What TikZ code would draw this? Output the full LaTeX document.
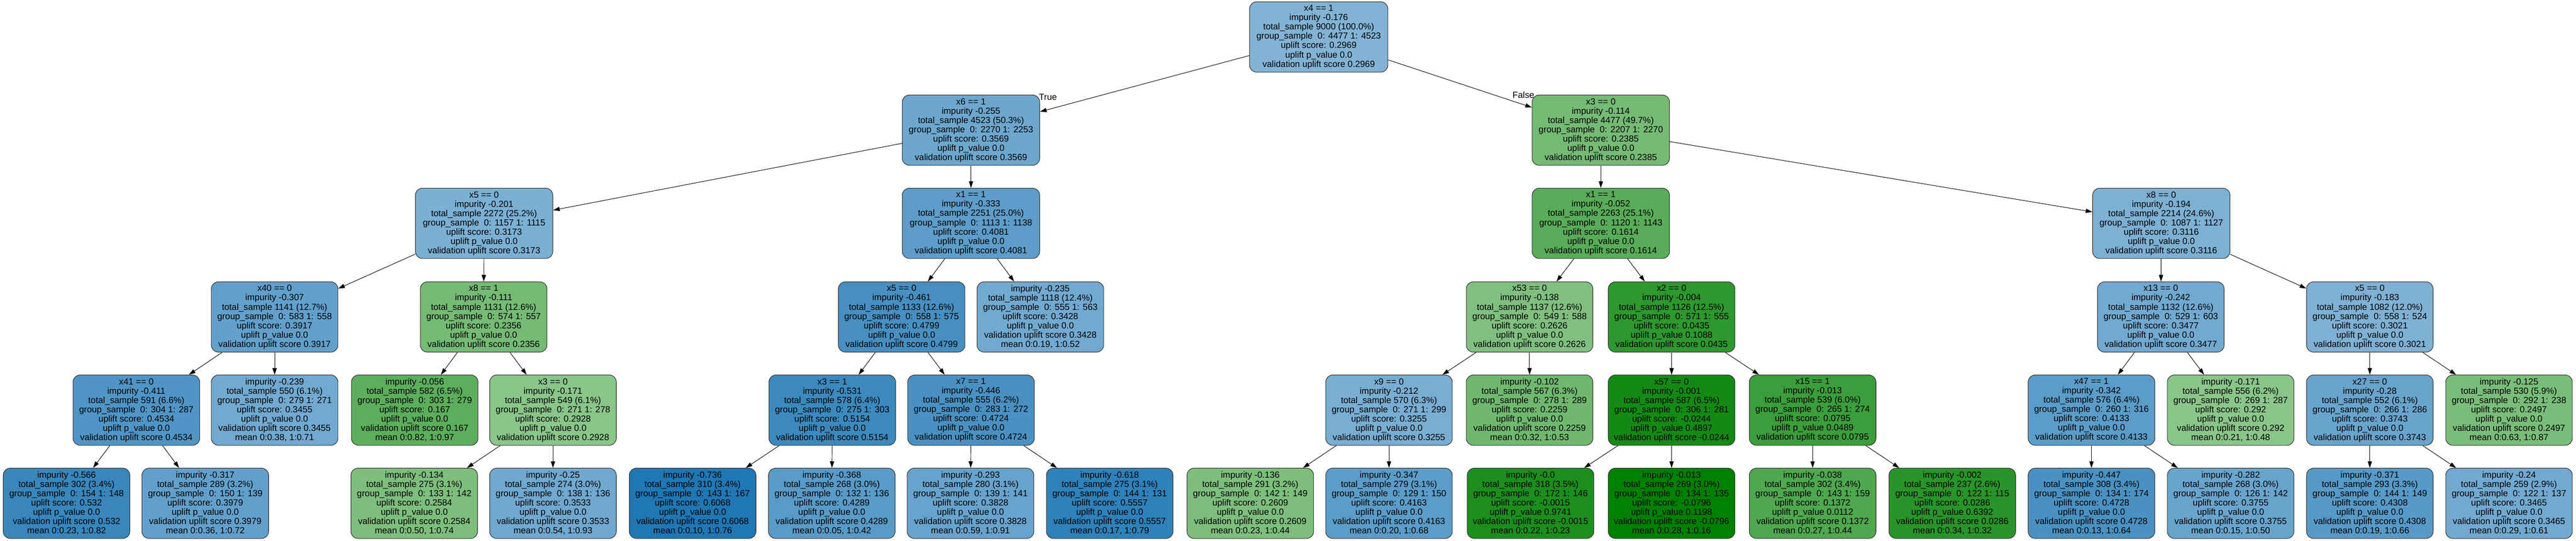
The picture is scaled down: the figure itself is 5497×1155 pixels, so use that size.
\documentclass[tikz,border=0pt]{standalone}
\usepackage{fontspec}
\setmainfont{Liberation Sans}
\usepackage{tikz}
\usetikzlibrary{arrows.meta}
\usepackage{xcolor}
\definecolor{upblue}{RGB}{31,119,180}
\definecolor{upgreen}{RGB}{0,128,0}

\begin{document}
\begin{tikzpicture}[x=0.01cm, y=-0.01cm,
    every node/.style={font=\fontsize{5.38}{5.63}\selectfont},
    box/.style={draw=black!80, rectangle, rounded corners=0.15cm, align=center, line width=0.35pt, minimum width=2.7cm, minimum height=1.5cm, inner sep=0pt},
    widebox/.style={box, minimum width=2.93cm},
    edge/.style={-{Triangle[length=0.14cm,width=0.09cm]}, line width=0.3pt},
    lbl/.style={inner sep=0pt}]
            \useasboundingbox (0,0) rectangle (5497,1155);

            % level 0 and 1
            \node[widebox, fill=upblue!56, minimum width=2.95cm] (root) at (2814,79) {x4 == 1\\impurity -0.176\\total\_sample 9000 (100.0\%)\\group\_sample\ \ 0: 4477 1: 4523\\uplift score: 0.2969\\uplift p\_value 0.0\\validation uplift score 0.2969};
            \node[widebox, fill=upblue!65] (l) at (2072,278) {x6 == 1\\impurity -0.255\\total\_sample 4523 (50.3\%)\\group\_sample\ \ 0: 2270 1: 2253\\uplift score: 0.3569\\uplift p\_value 0.0\\validation uplift score 0.3569};
            \node[widebox, fill=upgreen!54] (r) at (3416,278) {x3 == 0\\impurity -0.114\\total\_sample 4477 (49.7\%)\\group\_sample\ \ 0: 2207 1: 2270\\uplift score: 0.2385\\uplift p\_value 0.0\\validation uplift score 0.2385};

            % level 2
            \node[widebox, fill=upblue!59] (ll) at (1033,477) {x5 == 0\\impurity -0.201\\total\_sample 2272 (25.2\%)\\group\_sample\ \ 0: 1157 1: 1115\\uplift score: 0.3173\\uplift p\_value 0.0\\validation uplift score 0.3173};
            \node[widebox, fill=upblue!72] (lr) at (2072,477) {x1 == 1\\impurity -0.333\\total\_sample 2251 (25.0\%)\\group\_sample\ \ 0: 1113 1: 1138\\uplift score: 0.4081\\uplift p\_value 0.0\\validation uplift score 0.4081};
            \node[widebox, fill=upgreen!65] (rl) at (3416,477) {x1 == 1\\impurity -0.052\\total\_sample 2263 (25.1\%)\\group\_sample\ \ 0: 1120 1: 1143\\uplift score: 0.1614\\uplift p\_value 0.0\\validation uplift score 0.1614};
            \node[widebox, fill=upblue!58] (rr) at (4612,477) {x8 == 0\\impurity -0.194\\total\_sample 2214 (24.6\%)\\group\_sample\ \ 0: 1087 1: 1127\\uplift score: 0.3116\\uplift p\_value 0.0\\validation uplift score 0.3116};

            % level 3
            \node[box, fill=upblue!70] (lll) at (586,677) {x40 == 0\\impurity -0.307\\total\_sample 1141 (12.7\%)\\group\_sample\ \ 0: 583 1: 558\\uplift score: 0.3917\\uplift p\_value 0.0\\validation uplift score 0.3917};
            \node[box, fill=upgreen!54] (llr) at (1032,677) {x8 == 1\\impurity -0.111\\total\_sample 1131 (12.6\%)\\group\_sample\ \ 0: 574 1: 557\\uplift score: 0.2356\\uplift p\_value 0.0\\validation uplift score 0.2356};
            \node[box, fill=upblue!82] (lrl) at (1924,677) {x5 == 0\\impurity -0.461\\total\_sample 1133 (12.6\%)\\group\_sample\ \ 0: 558 1: 575\\uplift score: 0.4799\\uplift p\_value 0.0\\validation uplift score 0.4799};
            \node[box, fill=upblue!63] (lrr) at (2220,677) {impurity -0.235\\total\_sample 1118 (12.4\%)\\group\_sample\ \ 0: 555 1: 563\\uplift score: 0.3428\\uplift p\_value 0.0\\validation uplift score 0.3428\\mean 0:0.19, 1:0.52};
            \node[box, fill=upgreen!50] (rll) at (3264,677) {x53 == 0\\impurity -0.138\\total\_sample 1137 (12.6\%)\\group\_sample\ \ 0: 549 1: 588\\uplift score: 0.2626\\uplift p\_value 0.0\\validation uplift score 0.2626};
            \node[box, fill=upgreen!82] (rlr) at (3567,677) {x2 == 0\\impurity -0.004\\total\_sample 1126 (12.5\%)\\group\_sample\ \ 0: 571 1: 555\\uplift score: 0.0435\\uplift p\_value 0.1088\\validation uplift score 0.0435};
            \node[box, fill=upblue!63] (rrl) at (4611,677) {x13 == 0\\impurity -0.242\\total\_sample 1132 (12.6\%)\\group\_sample\ \ 0: 529 1: 603\\uplift score: 0.3477\\uplift p\_value 0.0\\validation uplift score 0.3477};
            \node[box, fill=upblue!57] (rrr) at (5057,677) {x5 == 0\\impurity -0.183\\total\_sample 1082 (12.0\%)\\group\_sample\ \ 0: 558 1: 524\\uplift score: 0.3021\\uplift p\_value 0.0\\validation uplift score 0.3021};

            % level 4
            \node[box, fill=upblue!78] (llll) at (291,876) {x41 == 0\\impurity -0.411\\total\_sample 591 (6.6\%)\\group\_sample\ \ 0: 304 1: 287\\uplift score: 0.4534\\uplift p\_value 0.0\\validation uplift score 0.4534};
            \node[box, fill=upblue!63] (lllr) at (586,876) {impurity -0.239\\total\_sample 550 (6.1\%)\\group\_sample\ \ 0: 279 1: 271\\uplift score: 0.3455\\uplift p\_value 0.0\\validation uplift score 0.3455\\mean 0:0.38, 1:0.71};
            \node[box, fill=upgreen!64] (llrl) at (885,876) {impurity -0.056\\total\_sample 582 (6.5\%)\\group\_sample\ \ 0: 303 1: 279\\uplift score: 0.167\\uplift p\_value 0.0\\validation uplift score 0.167\\mean 0:0.82, 1:0.97};
            \node[box, fill=upgreen!46] (llrr) at (1180,876) {x3 == 0\\impurity -0.171\\total\_sample 549 (6.1\%)\\group\_sample\ \ 0: 271 1: 278\\uplift score: 0.2928\\uplift p\_value 0.0\\validation uplift score 0.2928};
            \node[box, fill=upblue!87] (lrll) at (1776,876) {x3 == 1\\impurity -0.531\\total\_sample 578 (6.4\%)\\group\_sample\ \ 0: 275 1: 303\\uplift score: 0.5154\\uplift p\_value 0.0\\validation uplift score 0.5154};
            \node[box, fill=upblue!81] (lrlr) at (2072,876) {x7 == 1\\impurity -0.446\\total\_sample 555 (6.2\%)\\group\_sample\ \ 0: 283 1: 272\\uplift score: 0.4724\\uplift p\_value 0.0\\validation uplift score 0.4724};
            \node[box, fill=upblue!60] (rlll) at (2964,876) {x9 == 0\\impurity -0.212\\total\_sample 570 (6.3\%)\\group\_sample\ \ 0: 271 1: 299\\uplift score: 0.3255\\uplift p\_value 0.0\\validation uplift score 0.3255};
            \node[box, fill=upgreen!56] (rllr) at (3264,876) {impurity -0.102\\total\_sample 567 (6.3\%)\\group\_sample\ \ 0: 278 1: 289\\uplift score: 0.2259\\uplift p\_value 0.0\\validation uplift score 0.2259\\mean 0:0.32, 1:0.53};
            \node[box, fill=upgreen!92] (rlrl) at (3567,876) {x57 == 0\\impurity -0.001\\total\_sample 587 (6.5\%)\\group\_sample\ \ 0: 306 1: 281\\uplift score: -0.0244\\uplift p\_value 0.4897\\validation uplift score -0.0244};
            \node[box, fill=upgreen!77] (rlrr) at (3868,876) {x15 == 1\\impurity -0.013\\total\_sample 539 (6.0\%)\\group\_sample\ \ 0: 265 1: 274\\uplift score: 0.0795\\uplift p\_value 0.0489\\validation uplift score 0.0795};
            \node[box, fill=upblue!73] (rrll) at (4463,876) {x47 == 1\\impurity -0.342\\total\_sample 576 (6.4\%)\\group\_sample\ \ 0: 260 1: 316\\uplift score: 0.4133\\uplift p\_value 0.0\\validation uplift score 0.4133};
            \node[box, fill=upgreen!46] (rrlr) at (4760,876) {impurity -0.171\\total\_sample 556 (6.2\%)\\group\_sample\ \ 0: 269 1: 287\\uplift score: 0.292\\uplift p\_value 0.0\\validation uplift score 0.292\\mean 0:0.21, 1:0.48};
            \node[box, fill=upblue!67] (rrrl) at (5057,876) {x27 == 0\\impurity -0.28\\total\_sample 552 (6.1\%)\\group\_sample\ \ 0: 266 1: 286\\uplift score: 0.3743\\uplift p\_value 0.0\\validation uplift score 0.3743};
            \node[box, fill=upgreen!52] (rrrr) at (5354,876) {impurity -0.125\\total\_sample 530 (5.9\%)\\group\_sample\ \ 0: 292 1: 238\\uplift score: 0.2497\\uplift p\_value 0.0\\validation uplift score 0.2497\\mean 0:0.63, 1:0.87};

            % level 5
            \node[box, fill=upblue!89] (lllll) at (142,1075) {impurity -0.566\\total\_sample 302 (3.4\%)\\group\_sample\ \ 0: 154 1: 148\\uplift score: 0.532\\uplift p\_value 0.0\\validation uplift score 0.532\\mean 0:0.23, 1:0.82};
            \node[box, fill=upblue!70] (llllr) at (438,1075) {impurity -0.317\\total\_sample 289 (3.2\%)\\group\_sample\ \ 0: 150 1: 139\\uplift score: 0.3979\\uplift p\_value 0.0\\validation uplift score 0.3979\\mean 0:0.36, 1:0.72};
            \node[box, fill=upgreen!51] (llrrl) at (884,1075) {impurity -0.134\\total\_sample 275 (3.1\%)\\group\_sample\ \ 0: 133 1: 142\\uplift score: 0.2584\\uplift p\_value 0.0\\validation uplift score 0.2584\\mean 0:0.50, 1:0.74};
            \node[box, fill=upblue!64] (llrrr) at (1180,1075) {impurity -0.25\\total\_sample 274 (3.0\%)\\group\_sample\ \ 0: 138 1: 136\\uplift score: 0.3533\\uplift p\_value 0.0\\validation uplift score 0.3533\\mean 0:0.54, 1:0.93};
            \node[box, fill=upblue!100] (lrlll) at (1478,1075) {impurity -0.736\\total\_sample 310 (3.4\%)\\group\_sample\ \ 0: 143 1: 167\\uplift score: 0.6068\\uplift p\_value 0.0\\validation uplift score 0.6068\\mean 0:0.10, 1:0.76};
            \node[box, fill=upblue!74] (lrllr) at (1775,1075) {impurity -0.368\\total\_sample 268 (3.0\%)\\group\_sample\ \ 0: 132 1: 136\\uplift score: 0.4289\\uplift p\_value 0.0\\validation uplift score 0.4289\\mean 0:0.05, 1:0.42};
            \node[box, fill=upblue!68] (lrlrl) at (2071,1075) {impurity -0.293\\total\_sample 280 (3.1\%)\\group\_sample\ \ 0: 139 1: 141\\uplift score: 0.3828\\uplift p\_value 0.0\\validation uplift score 0.3828\\mean 0:0.59, 1:0.91};
            \node[box, fill=upblue!93] (lrlrr) at (2368,1075) {impurity -0.618\\total\_sample 275 (3.1\%)\\group\_sample\ \ 0: 144 1: 131\\uplift score: 0.5557\\uplift p\_value 0.0\\validation uplift score 0.5557\\mean 0:0.17, 1:0.79};
            \node[box, fill=upgreen!51] (rllll) at (2668,1075) {impurity -0.136\\total\_sample 291 (3.2\%)\\group\_sample\ \ 0: 142 1: 149\\uplift score: 0.2609\\uplift p\_value 0.0\\validation uplift score 0.2609\\mean 0:0.23, 1:0.44};
            \node[box, fill=upblue!73] (rlllr) at (2964,1075) {impurity -0.347\\total\_sample 279 (3.1\%)\\group\_sample\ \ 0: 129 1: 150\\uplift score: 0.4163\\uplift p\_value 0.0\\validation uplift score 0.4163\\mean 0:0.20, 1:0.68};
            \node[box, fill=upgreen!89] (rlrll) at (3266,1075) {impurity -0.0\\total\_sample 318 (3.5\%)\\group\_sample\ \ 0: 172 1: 146\\uplift score: -0.0015\\uplift p\_value 0.9741\\validation uplift score -0.0015\\mean 0:0.22, 1:0.23};
            \node[box, fill=upgreen!100] (rlrlr) at (3567,1075) {impurity -0.013\\total\_sample 269 (3.0\%)\\group\_sample\ \ 0: 134 1: 135\\uplift score: -0.0796\\uplift p\_value 0.1198\\validation uplift score -0.0796\\mean 0:0.28, 1:0.16};
            \node[box, fill=upgreen!69] (rlrrl) at (3868,1075) {impurity -0.038\\total\_sample 302 (3.4\%)\\group\_sample\ \ 0: 143 1: 159\\uplift score: 0.1372\\uplift p\_value 0.0112\\validation uplift score 0.1372\\mean 0:0.27, 1:0.44};
            \node[box, fill=upgreen!84] (rlrrr) at (4166,1075) {impurity -0.002\\total\_sample 237 (2.6\%)\\group\_sample\ \ 0: 122 1: 115\\uplift score: 0.0286\\uplift p\_value 0.6392\\validation uplift score 0.0286\\mean 0:0.34, 1:0.32};
            \node[box, fill=upblue!81] (rrlll) at (4463,1075) {impurity -0.447\\total\_sample 308 (3.4\%)\\group\_sample\ \ 0: 134 1: 174\\uplift score: 0.4728\\uplift p\_value 0.0\\validation uplift score 0.4728\\mean 0:0.13, 1:0.64};
            \node[box, fill=upblue!67] (rrllr) at (4760,1075) {impurity -0.282\\total\_sample 268 (3.0\%)\\group\_sample\ \ 0: 126 1: 142\\uplift score: 0.3755\\uplift p\_value 0.0\\validation uplift score 0.3755\\mean 0:0.15, 1:0.50};
            \node[box, fill=upblue!75] (rrrll) at (5057,1075) {impurity -0.371\\total\_sample 293 (3.3\%)\\group\_sample\ \ 0: 144 1: 149\\uplift score: 0.4308\\uplift p\_value 0.0\\validation uplift score 0.4308\\mean 0:0.19, 1:0.66};
            \node[box, fill=upblue!63] (rrrlr) at (5354,1075) {impurity -0.24\\total\_sample 259 (2.9\%)\\group\_sample\ \ 0: 122 1: 137\\uplift score: 0.3465\\uplift p\_value 0.0\\validation uplift score 0.3465\\mean 0:0.29, 1:0.61};

            % edges
            \draw[edge] (root) -- node[pos=1, lbl, xshift=0.17cm, yshift=0.31cm] {True} (l);
            \draw[edge] (root) -- node[pos=1, lbl, xshift=-0.18cm, yshift=0.27cm] {False} (r);
            \foreach \p/\c in {l/ll, l/lr, r/rl, r/rr,
                ll/lll, ll/llr, lr/lrl, lr/lrr, rl/rll, rl/rlr, rr/rrl, rr/rrr,
                lll/llll, lll/lllr, llr/llrl, llr/llrr, lrl/lrll, lrl/lrlr,
                rll/rlll, rll/rllr, rlr/rlrl, rlr/rlrr, rrl/rrll, rrl/rrlr, rrr/rrrl, rrr/rrrr,
                llll/lllll, llll/llllr, llrr/llrrl, llrr/llrrr, lrll/lrlll, lrll/lrllr,
                lrlr/lrlrl, lrlr/lrlrr, rlll/rllll, rlll/rlllr, rlrl/rlrll, rlrl/rlrlr,
                rlrr/rlrrl, rlrr/rlrrr, rrll/rrlll, rrll/rrllr, rrrl/rrrll, rrrl/rrrlr}
                \draw[edge] (\p) -- (\c);
        \end{tikzpicture}
\end{document}
